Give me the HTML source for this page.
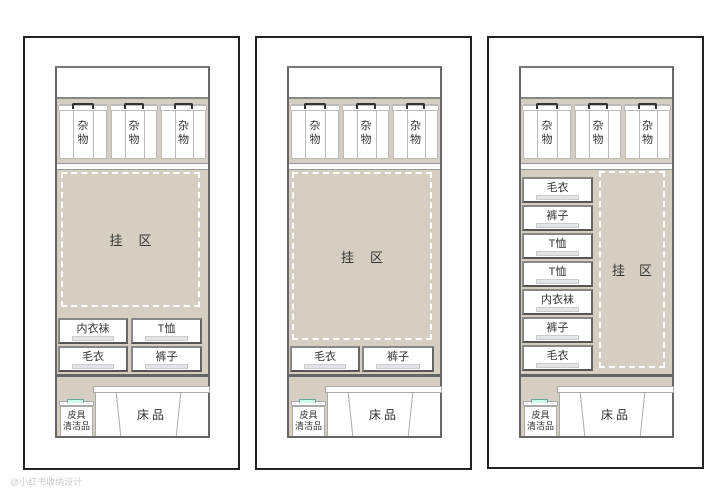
<!DOCTYPE html>
<html><head><meta charset="utf-8"><style>
*{margin:0;padding:0;box-sizing:border-box}
body{width:720px;height:497px;background:#fff;position:relative;overflow:hidden;font-family:"Liberation Sans","Noto Sans CJK SC",sans-serif;color:#333}
div{position:absolute}
.fr{top:36px;width:217px;height:434px;border:2px solid #222;background:#fff}
.cab{top:66px;width:155px;height:372px;background:#d6cfc1;border:2px solid #666;border-top-color:#777}
.top{left:0;top:0;width:151px;height:31px;background:#fff;border-bottom:2px solid #888}
.box{top:36px;height:55px;background:#fff;border:1px solid #bbb}
.box .lid{left:-2px;top:0;width:calc(100% + 4px);height:6px;background:#fff;border:1px solid #bbb}
.box .h{top:-2px;left:12px;right:12px;height:6px;border:2px solid #333;border-bottom:none;border-radius:2px 2px 0 0}
.box .l{top:6px;bottom:0;width:0;border-left:1px solid #bbb}
.box .t{left:0;right:0;top:14px;text-align:center;font-size:11px;line-height:14px}
.shelf{left:0;top:92px;width:151px;height:10px;background:#d6cfc1;border-bottom:1px solid #999}
.shelf:after{content:"";position:absolute;left:0;right:0;top:3px;height:5px;background:#fff;border-top:1px solid #999;border-bottom:1px solid #999}
.dash{border:2px dashed #fff;display:flex;align-items:center;justify-content:center;font-size:13px;letter-spacing:16px;padding-left:16px;white-space:nowrap}
.dr{height:26px;background:#fff;border:2px solid #777;border-color:#888 #666 #555 #888;font-size:11px;text-align:center;line-height:18px}
.dr:after{content:"";position:absolute;left:12px;right:12px;bottom:1px;height:3px;background:#e4e4e8;border:1px solid #ccc}
.div{left:0;top:306px;width:151px;height:3px;background:#666}
.bl{left:36px;top:318px;width:117px;height:7px;background:#fff;border:1px solid #aaa}
.bb{left:38px;top:325px;width:113px;height:43px;background:#fff;border-left:1px solid #aaa}
.bb .t{left:0;right:0;top:13px;text-align:center;font-size:12px;letter-spacing:3px}
.sl{left:2px;top:333px;width:35px;height:5px;background:#fff;border:1px solid #aaa}
.sb{left:3px;top:338px;width:33px;height:30px;background:#fff;border:1px solid #aaa;border-bottom:none;font-size:9px;line-height:11px;text-align:center;padding-top:3px}
.sg{left:10px;top:331px;width:17px;height:4px;border:1px solid #6a9;border-bottom:none;background:#cfe}
</style></head><body>

<!-- panel 1 -->
<div class="fr" style="left:23px"></div>
<div class="cab" style="left:55px">
<div class="top"></div>
<div class="box" style="left:2px;width:48px"><div class="lid"></div><div class="h"></div><div class="l" style="left:13px"></div><div class="l" style="left:33px"></div><div class="t">杂<br>物</div></div>
<div class="box" style="left:54px;width:46px"><div class="lid"></div><div class="h"></div><div class="l" style="left:13px"></div><div class="l" style="left:32px"></div><div class="t">杂<br>物</div></div>
<div class="box" style="left:104px;width:45px"><div class="lid"></div><div class="h"></div><div class="l" style="left:13px"></div><div class="l" style="left:31px"></div><div class="t">杂<br>物</div></div>
<div class="shelf"></div>
<div class="dash" style="left:4px;top:104px;width:139px;height:135px">挂区</div>
<div class="dr" style="left:1px;top:250px;width:70px">内衣袜</div>
<div class="dr" style="left:74px;top:250px;width:71px">T恤</div>
<div class="dr" style="left:1px;top:278px;width:70px">毛衣</div>
<div class="dr" style="left:74px;top:278px;width:71px">裤子</div>
<div class="div"></div>
<div class="bl"></div><div class="bb"><div style="left:22px;top:0;height:43px;border-left:1px solid #aaa;transform:skewX(6deg)"></div><div style="left:82px;top:0;height:43px;border-left:1px solid #aaa;transform:skewX(-6deg)"></div><div class="t">床品</div></div>
<div class="sl"></div><div class="sg"></div><div class="sb">皮具<br>清洁品</div>
</div>

<!-- panel 2 -->
<div class="fr" style="left:255px"></div>
<div class="cab" style="left:287px">
<div class="top"></div>
<div class="box" style="left:2px;width:48px"><div class="lid"></div><div class="h"></div><div class="l" style="left:13px"></div><div class="l" style="left:33px"></div><div class="t">杂<br>物</div></div>
<div class="box" style="left:54px;width:46px"><div class="lid"></div><div class="h"></div><div class="l" style="left:13px"></div><div class="l" style="left:32px"></div><div class="t">杂<br>物</div></div>
<div class="box" style="left:104px;width:45px"><div class="lid"></div><div class="h"></div><div class="l" style="left:13px"></div><div class="l" style="left:31px"></div><div class="t">杂<br>物</div></div>
<div class="shelf"></div>
<div class="dash" style="left:3px;top:104px;width:140px;height:168px">挂区</div>
<div class="dr" style="left:1px;top:278px;width:70px">毛衣</div>
<div class="dr" style="left:73px;top:278px;width:72px">裤子</div>
<div class="div"></div>
<div class="bl"></div><div class="bb"><div style="left:22px;top:0;height:43px;border-left:1px solid #aaa;transform:skewX(6deg)"></div><div style="left:82px;top:0;height:43px;border-left:1px solid #aaa;transform:skewX(-6deg)"></div><div class="t">床品</div></div>
<div class="sl"></div><div class="sg"></div><div class="sb">皮具<br>清洁品</div>
</div>

<!-- panel 3 -->
<div class="fr" style="left:487px;height:433px"></div>
<div class="cab" style="left:519px">
<div class="top"></div>
<div class="box" style="left:2px;width:48px"><div class="lid"></div><div class="h"></div><div class="l" style="left:13px"></div><div class="l" style="left:33px"></div><div class="t">杂<br>物</div></div>
<div class="box" style="left:54px;width:46px"><div class="lid"></div><div class="h"></div><div class="l" style="left:13px"></div><div class="l" style="left:32px"></div><div class="t">杂<br>物</div></div>
<div class="box" style="left:104px;width:45px"><div class="lid"></div><div class="h"></div><div class="l" style="left:13px"></div><div class="l" style="left:31px"></div><div class="t">杂<br>物</div></div>
<div class="shelf"></div>
<div class="dash" style="left:78px;top:103px;width:66px;height:197px;letter-spacing:14px;padding-left:14px">挂区</div>
<div class="dr" style="left:1px;top:109px;width:71px">毛衣</div>
<div class="dr" style="left:1px;top:137px;width:71px">裤子</div>
<div class="dr" style="left:1px;top:165px;width:71px">T恤</div>
<div class="dr" style="left:1px;top:193px;width:71px">T恤</div>
<div class="dr" style="left:1px;top:221px;width:71px">内衣袜</div>
<div class="dr" style="left:1px;top:249px;width:71px">裤子</div>
<div class="dr" style="left:1px;top:277px;width:71px">毛衣</div>
<div class="div"></div>
<div class="bl"></div><div class="bb"><div style="left:22px;top:0;height:43px;border-left:1px solid #aaa;transform:skewX(6deg)"></div><div style="left:82px;top:0;height:43px;border-left:1px solid #aaa;transform:skewX(-6deg)"></div><div class="t">床品</div></div>
<div class="sl"></div><div class="sg"></div><div class="sb">皮具<br>清洁品</div>
</div>

<div style="left:10px;top:475px;font-size:9px;color:#ccc">@小红书收纳设计</div>
</body></html>
